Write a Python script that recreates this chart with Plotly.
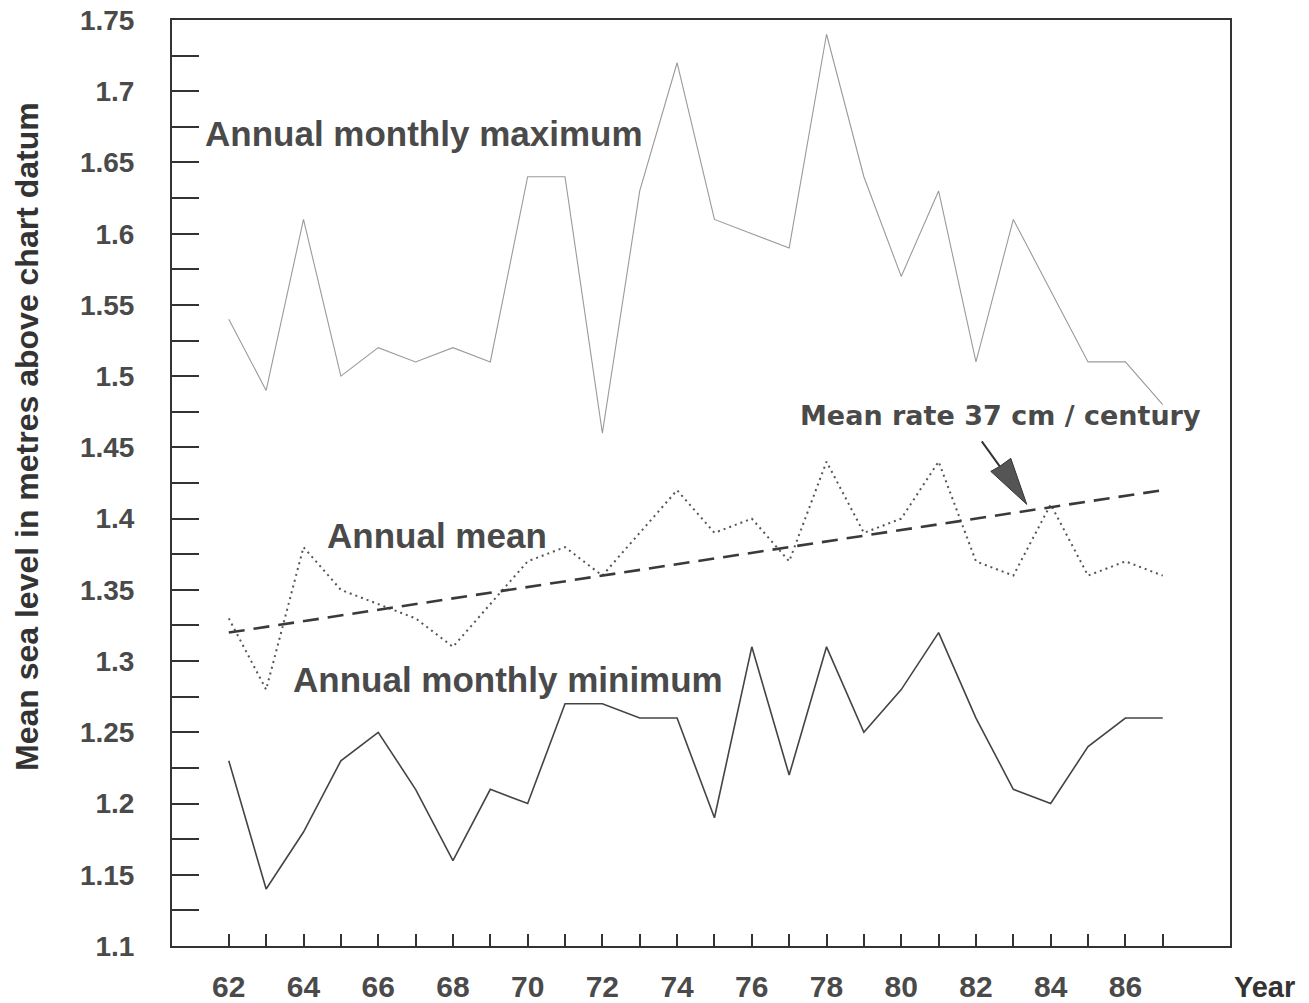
import plotly.graph_objects as go

# Tide-gauge record, annual values (metres above chart datum)
years = list(range(62, 88))
annual_max = [1.54, 1.49, 1.61, 1.50, 1.52, 1.51, 1.52, 1.51, 1.64, 1.64, 1.46, 1.63, 1.72,
              1.61, 1.60, 1.59, 1.74, 1.64, 1.57, 1.63, 1.51, 1.61, 1.56, 1.51, 1.51, 1.48]
annual_mean = [1.33, 1.28, 1.38, 1.35, 1.34, 1.33, 1.31, 1.34, 1.37, 1.38, 1.36, 1.39, 1.42,
               1.39, 1.40, 1.37, 1.44, 1.39, 1.40, 1.44, 1.37, 1.36, 1.41, 1.36, 1.37, 1.36]
annual_min = [1.23, 1.14, 1.18, 1.23, 1.25, 1.21, 1.16, 1.21, 1.20, 1.27, 1.27, 1.26, 1.26,
              1.19, 1.31, 1.22, 1.31, 1.25, 1.28, 1.32, 1.26, 1.21, 1.20, 1.24, 1.26, 1.26]

# Linear trend of the annual mean (37 cm / century)
trend_years = [62, 87]
trend_values = [1.32, 1.42]

x_tick_vals = [62, 64, 66, 68, 70, 72, 74, 76, 78, 80, 82, 84, 86]
x_tick_text = ["62", "64", "66", "68", "70", "72", "74", "76", "78", "80", "82", "84", "86"]
y_tick_vals = [1.1, 1.15, 1.2, 1.25, 1.3, 1.35, 1.4, 1.45, 1.5, 1.55, 1.6, 1.65, 1.7, 1.75]
y_tick_text = ["1.1", "1.15", "1.2", "1.25", "1.3", "1.35", "1.4", "1.45", "1.5", "1.55",
               "1.6", "1.65", "1.7", "1.75"]
y_minor_vals = [1.125, 1.175, 1.225, 1.275, 1.325, 1.375, 1.425, 1.475, 1.525, 1.575,
                1.625, 1.675, 1.725]

W, H = 1309, 1003
M_L, M_R, M_T, M_B = 172, 79, 20, 57
X_RANGE = [60.48, 88.80]
Y_RANGE = [1.1, 1.75]
PLOT_W = W - M_L - M_R
PLOT_H = H - M_T - M_B

INK = "#333333"
TEXT = "#4a4a4a"
FONT = "Liberation Sans, Arial, sans-serif"
WIDE = "DejaVu Sans, Verdana, sans-serif"

fig = go.Figure()

fig.add_trace(go.Scatter(x=years, y=annual_max, mode="lines",
                         line=dict(color="#9a9a9a", width=1.1), hoverinfo="skip"))
fig.add_trace(go.Scatter(x=years, y=annual_mean, mode="lines",
                         line=dict(color="#555555", width=2, dash="2px,4px"), hoverinfo="skip"))
fig.add_trace(go.Scatter(x=trend_years, y=trend_values, mode="lines",
                         line=dict(color="#3a3a3a", width=2.6, dash="16px,9px"), hoverinfo="skip"))
fig.add_trace(go.Scatter(x=years, y=annual_min, mode="lines",
                         line=dict(color="#444444", width=1.6), hoverinfo="skip"))


def px_to_paper(px, py):
    return (px - M_L) / PLOT_W, (H - M_B - py) / PLOT_H


def label(text, px, py, size, **kw):
    xp, yp = px_to_paper(px, py)
    fig.add_annotation(text=text, x=xp, y=yp, xref="paper", yref="paper",
                       showarrow=False, xanchor=kw.get("xanchor", "left"), yanchor="middle",
                       textangle=kw.get("angle", 0),
                       font=dict(family=kw.get("family", FONT), size=size,
                                 color=kw.get("color", TEXT), weight="bold"))


label("Annual monthly maximum", 203, 133, 35)
label("Annual mean", 325, 535, 35)
label("Annual monthly minimum", 291, 679, 35)
label("Mean rate 37 cm / century", 798, 415, 27, family=WIDE)
label("Year", 1264, 987, 29, xanchor="center", color=INK)
label("Mean sea level in metres above chart datum", 27, 437, 32, xanchor="center",
      angle=-90, color=INK)

# Arrow pointing at the trend line: tip anchored in data space, body in pixels
tip_year, tip_value = 83.36, 1.41
sx = (X_RANGE[1] - X_RANGE[0]) / PLOT_W
sy = (Y_RANGE[1] - Y_RANGE[0]) / PLOT_H


def off(dx, dy):
    return tip_year + dx * sx, tip_value - dy * sy


x0, y0 = off(-45, -63)
xn, yn = off(-27, -38)
fig.add_shape(type="line", x0=x0, y0=y0, x1=xn, y1=yn, xref="x", yref="y",
              line=dict(color=INK, width=2))
pts = [off(0, 0), off(-36, -33), off(-27, -38), off(-16, -46)]
path = "M " + " L ".join(f"{a},{b}" for a, b in pts) + " Z"
fig.add_shape(type="path", path=path, xref="x", yref="y",
              fillcolor="#555555", line=dict(color=INK, width=1))

fig.update_xaxes(range=X_RANGE, tickmode="array", tickvals=x_tick_vals, ticktext=x_tick_text,
                 ticks="inside", ticklen=12, tickwidth=1.5, tickcolor=INK,
                 minor=dict(ticks="inside", ticklen=12, tickwidth=1.5, tickcolor=INK,
                            tickmode="array", tickvals=years),
                 showline=True, linecolor=INK, linewidth=2, mirror=True, automargin=False,
                 showgrid=False, zeroline=False, ticklabelstandoff=13,
                 tickfont=dict(family=FONT, size=30, color=TEXT, weight="bold"))
fig.update_yaxes(range=Y_RANGE, tickmode="array", tickvals=y_tick_vals, ticktext=y_tick_text,
                 ticks="inside", ticklen=27, tickwidth=2, tickcolor=INK,
                 minor=dict(ticks="inside", ticklen=27, tickwidth=2, tickcolor=INK,
                            tickmode="array", tickvals=y_minor_vals),
                 showline=True, linecolor=INK, linewidth=2, mirror=True, automargin=False,
                 showgrid=False, zeroline=False, ticklabelstandoff=30,
                 tickfont=dict(family=FONT, size=28, color=TEXT, weight="bold"))

fig.update_layout(width=W, height=H, margin=dict(l=M_L, r=M_R, t=M_T, b=M_B),
                  paper_bgcolor="white", plot_bgcolor="white", showlegend=False)

fig.write_html("out.html")
